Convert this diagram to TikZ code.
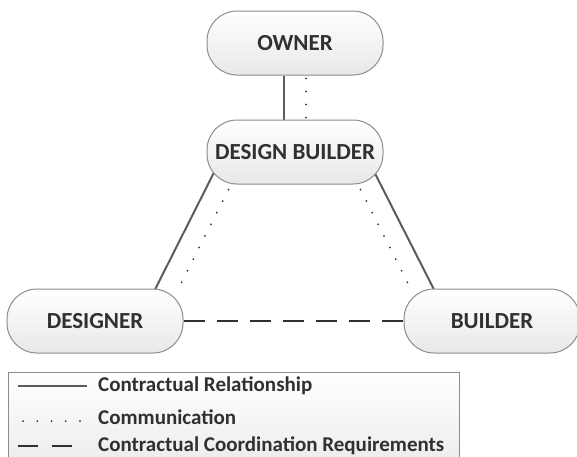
\documentclass[tikz,border=0pt]{standalone}
\usepackage{fontspec}
\setmainfont{Carlito}
\usetikzlibrary{positioning, backgrounds}
\definecolor{inkgray}{HTML}{303030}
\definecolor{linegray}{HTML}{5C5C5C}
\definecolor{edgegray}{HTML}{8C8C8C}
\definecolor{shadegray}{HTML}{E8E8E8}
\tikzset{
    party/.style={rectangle, draw=edgegray, line width=1pt, top color=white, bottom color=shadegray, rounded corners=30pt, minimum width=176pt, minimum height=64pt, font=\fontsize{23}{25}\selectfont\bfseries, text=inkgray},
    legendbox/.style={rectangle, draw=edgegray, line width=1pt, top color=white, bottom color=shadegray, minimum width=451pt, minimum height=110pt, anchor=north west},
    contract/.style={draw=linegray, line width=2pt},
    comm/.style={draw=inkgray, line width=2pt, line cap=round, dash pattern=on 0pt off 13pt},
    coordreq/.style={draw=inkgray, line width=2.8pt, dash pattern=on 21pt off 12pt},
    legendtext/.style={anchor=west, inner sep=0pt, font=\fontsize{21}{23}\selectfont\bfseries, text=inkgray},
}

\begin{document}
\begin{tikzpicture}[x=1pt, y=-1pt]
    \clip (0,0) rectangle (577,456);

    % The four parties
    \node[party] (owner) at (295,43) {OWNER};
    \node[party, below=44pt of owner] (db) {DESIGN BUILDER};
    \node[party, below left=104pt and 23pt of db] (designer) {DESIGNER};
    \node[party, below right=104pt and 20pt of db] (builder) {BUILDER};

    % Links, kept under the boxes
    \begin{scope}[on background layer]
        \draw[contract] ([xshift=-11pt]owner.south) -- ([xshift=-11pt]db.north);
        \draw[comm] ([xshift=11pt,yshift=-3pt]owner.south) -- ([xshift=11pt,yshift=1pt]db.north);
        \draw[contract] ([xshift=9pt,yshift=15pt]db.south west) -- ([xshift=-30pt,yshift=-4pt]designer.north east);
        \draw[comm] ([xshift=22pt,yshift=-5pt]db.south west) -- ([xshift=-4pt,yshift=2pt]designer.north east);
        \draw[contract] ([xshift=-11pt,yshift=16pt]db.south east) -- ([xshift=32pt,yshift=-4pt]builder.north west);
        \draw[comm] ([xshift=-23pt,yshift=-5pt]db.south east) -- ([xshift=6pt,yshift=2pt]builder.north west);
    \end{scope}
    \draw[coordreq] (designer.east) -- (builder.west);

    % Legend
    \node[legendbox] (legend) at (8,372) {};
    \node[legendtext] (relation) at (98,386) {Contractual Relationship};
    \node[legendtext] (talk) at (98,417) {Communication};
    \node[legendtext] (coordination) at (98,446) {Contractual Coordination Requirements};
    \coordinate (relA) at (18,386);
    \coordinate (relB) at (87,386);
    \coordinate (talkA) at (23,421);
    \coordinate (talkB) at (81,421);
    \coordinate (coordA) at (18,446);
    \coordinate (coordB) at (72,446);
    \draw[contract] (relA) -- (relB);
    \draw[comm, dash pattern=on 0pt off 14.25pt] (talkA) -- (talkB);
    \draw[coordreq, dash pattern=on 20pt off 14pt] (coordA) -- (coordB);
\end{tikzpicture}
\end{document}
